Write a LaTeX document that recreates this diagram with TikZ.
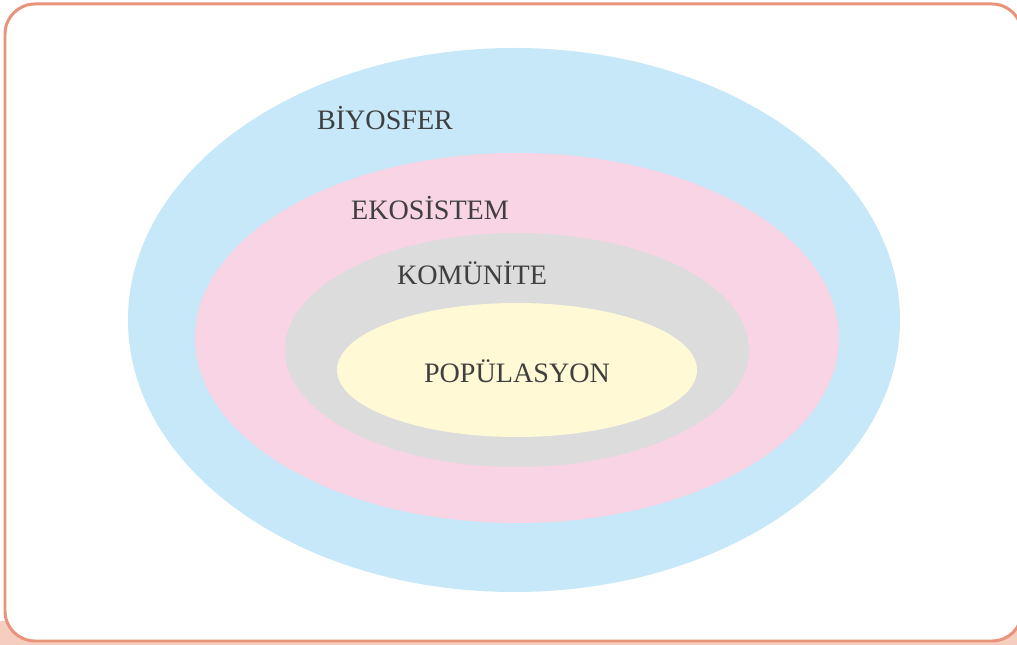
\documentclass[tikz,border=0pt]{standalone}
\usepackage{fontspec}
\setmainfont{Liberation Serif}
\usepackage{xcolor}
\definecolor{framecol}{HTML}{E9947A}
\definecolor{shadecol}{HTML}{F6CEC0}
\definecolor{biocol}{HTML}{C6E8F8}
\definecolor{ekocol}{HTML}{F8D4E4}
\definecolor{komcol}{HTML}{DCDCDC}
\definecolor{popcol}{HTML}{FFF9D6}
\definecolor{textcol}{HTML}{3F3F3F}
\tikzset{
	level/.style={color=textcol, font=\fontsize{16}{19}\selectfont, inner sep=0pt}
}

\begin{document}
\begin{tikzpicture}[x=0.02cm, y=0.02cm]
		\useasboundingbox (0, 0) rectangle (1017, 645);
		\clip (0, 0) rectangle (1017, 645);

		% frame
		\fill[shadecol] (0, 0) rectangle (1017, 24);
		\draw[framecol, fill=white, line width=1.7pt, rounded corners=0.6cm] (5, 4) rectangle (1022, 641);

		% nested sets
		\fill[biocol] (514, 325) ellipse [x radius=386, y radius=272];
		\fill[ekocol] (517, 307) ellipse [x radius=322, y radius=185];
		\fill[komcol] (517, 295) ellipse [x radius=232, y radius=117];
		\fill[popcol] (517, 275) ellipse [x radius=180, y radius=67];

		\node[level] at (385, 527) (bio) {BİYOSFER};
		\node[level] at (430, 437) (eko) {EKOSİSTEM};
		\node[level] at (472, 372) (kom) {KOMÜNİTE};
		\node[level] at (517, 274) (pop) {POPÜLASYON};
	\end{tikzpicture}
\end{document}
